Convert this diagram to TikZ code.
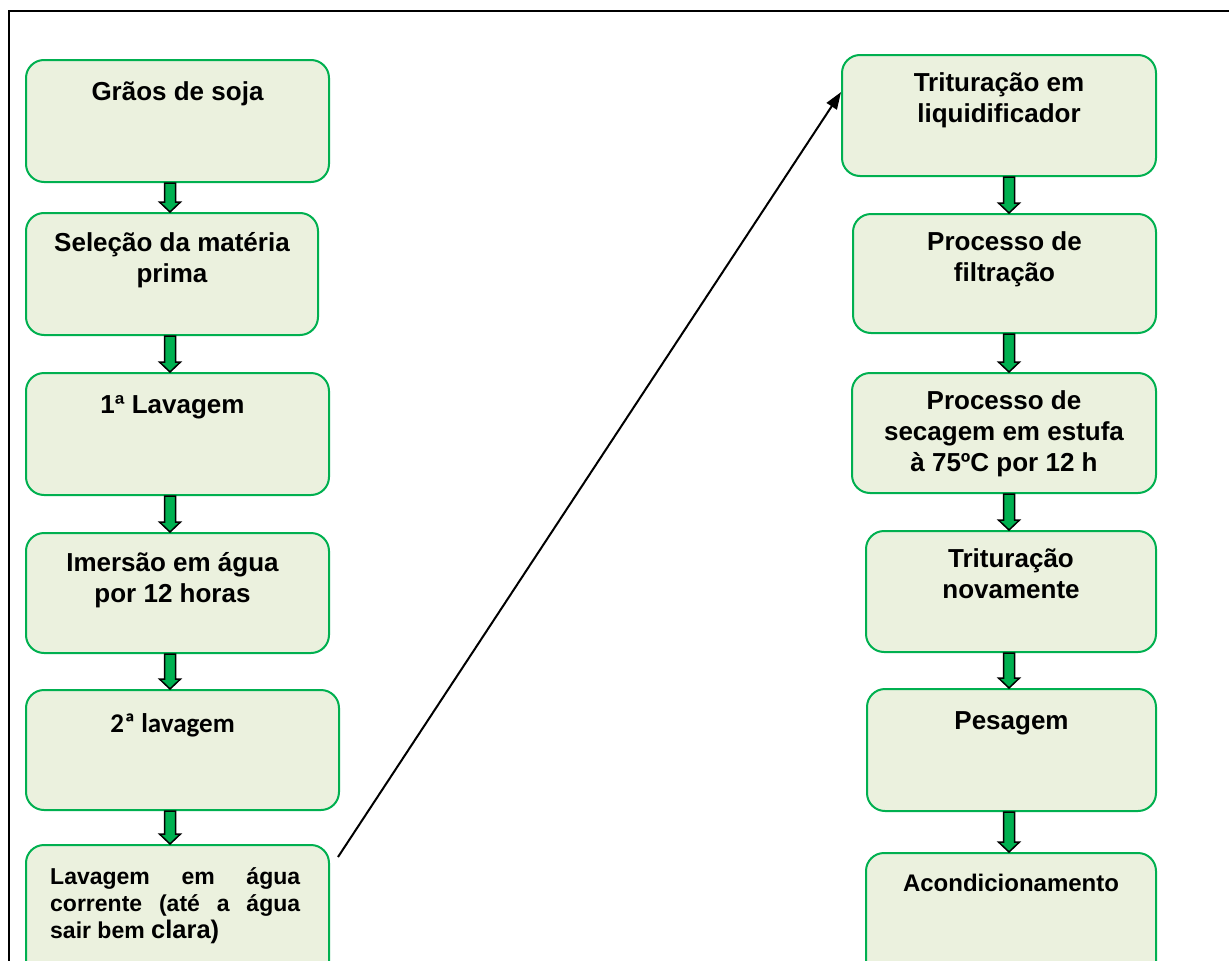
\documentclass[tikz,border=0pt]{standalone}
\usepackage{fontspec}
\setmainfont{Liberation Sans}
\newfontfamily\calibrifont{Carlito}
\usetikzlibrary{arrows.meta,calc}
\definecolor{boxfill}{HTML}{EBF1DE}
\definecolor{boxline}{HTML}{00B050}
\definecolor{arrowgreen}{HTML}{00B050}

\tikzset{
  stepbox/.style={draw=boxline, fill=boxfill, line width=2pt, rounded corners=18pt, inner sep=0pt},
  steptext/.style={anchor=north, inner sep=0pt, align=center,
    font=\bfseries\fontsize{26}{31}\selectfont, execute at begin node=\strut},
  blockarrow/.style={fill=arrowgreen, draw=black, line width=1.5pt, line join=miter},
}

% green block arrow down a column, from one box to the next
\newcommand{\flowarrow}[3]{%
  \coordinate (fa-top) at (#2.south -| #1);
  \coordinate (fa-tip) at (#3.north -| #1);
  \draw[blockarrow] ($(fa-top)+(-5.5,0)$) -- ($(fa-tip)+(-5.5,-10)$)
    -- ($(fa-tip)+(-10.5,-10)$) -- (fa-tip) -- ($(fa-tip)+(10.5,-10)$)
    -- ($(fa-tip)+(5.5,-10)$) -- ($(fa-top)+(5.5,0)$) -- cycle;}

\begin{document}
\begin{tikzpicture}[x=1pt, y=-1pt]
  \useasboundingbox (0,0) rectangle (1229,961);
  \draw[line width=2pt] (9,961) -- (9,11) -- (1229,11);

  % left column
  \node[stepbox, anchor=north west, minimum width=303, minimum height=122] (g1) at (25,59) {};
  \node[stepbox, anchor=north west, minimum width=292, minimum height=122] (g2) at (25,212) {};
  \node[stepbox, anchor=north west, minimum width=303, minimum height=122] (g3) at (25,372) {};
  \node[stepbox, anchor=north west, minimum width=303, minimum height=120] (g4) at (25,532) {};
  \node[stepbox, anchor=north west, minimum width=313, minimum height=120] (g5) at (25,689) {};
  \node[stepbox, anchor=north west, minimum width=303, minimum height=135] (g6) at (25,844) {};

  % right column
  \node[stepbox, anchor=north east, minimum width=314, minimum height=121] (r1) at (1157,54) {};
  \node[stepbox, anchor=north east, minimum width=303, minimum height=119] (r2) at (1157,213) {};
  \node[stepbox, anchor=north east, minimum width=304, minimum height=120] (r3) at (1157,372) {};
  \node[stepbox, anchor=north east, minimum width=290, minimum height=121] (r4) at (1157,530) {};
  \node[stepbox, anchor=north east, minimum width=289, minimum height=122] (r5) at (1157,688) {};
  \node[stepbox, anchor=north east, minimum width=290, minimum height=135] (r6) at (1157,852) {};

  % texts
  \node[steptext] (tg1) at ($(g1.north)+(0,20)$) {Grãos de soja};
  \node[steptext] (tg2) at ($(g2.north)+(0,20)$) {Seleção da matéria\\prima};
  \node[steptext] (tg3) at ($(g3.north)+(-5,20)$) {1ª Lavagem};
  \node[steptext] (tg4) at ($(g4.north)+(-5,20)$) {Imersão em água\\por 12 horas};
  \node[steptext, font=\calibrifont\bfseries\fontsize{27}{31}\selectfont] (tg5) at ($(g5.north)+(-10,22)$) {2ª lavagem};
  \node[anchor=north west, inner sep=0pt, text width=250, align=justify,
    font=\bfseries\fontsize{23}{27}\selectfont, execute at begin node=\strut] (tg6) at (50,865)
    {Lavagem em água\linebreak corrente (até a água\linebreak sair bem {\fontsize{25.5}{27}\selectfont clara)}};

  \node[steptext] (tr1) at ($(r1.north)+(0,18)$) {Trituração em\\liquidificador};
  \node[steptext] (tr2) at ($(r2.north)+(0,18)$) {Processo de\\filtração};
  \node[steptext] (tr3) at ($(r3.north)+(0,18)$) {Processo de\\secagem em estufa\\à 75ºC por 12 h};
  \node[steptext] (tr4) at ($(r4.north)+(0,18)$) {Trituração\\novamente};
  \node[steptext] (tr5) at ($(r5.north)+(0,20)$) {Pesagem};
  \node[steptext, font=\bfseries\fontsize{24}{28}\selectfont] (tr6) at ($(r6.north)+(0,20)$) {Acondicionamento};

  % block arrows
  \coordinate (lcol) at (170,0);
  \coordinate (rcol) at (1009,0);
  \flowarrow{lcol}{g1}{g2}
  \flowarrow{lcol}{g2}{g3}
  \flowarrow{lcol}{g3}{g4}
  \flowarrow{lcol}{g4}{g5}
  \flowarrow{lcol}{g5}{g6}
  \flowarrow{rcol}{r1}{r2}
  \flowarrow{rcol}{r2}{r3}
  \flowarrow{rcol}{r3}{r4}
  \flowarrow{rcol}{r4}{r5}
  \flowarrow{rcol}{r5}{r6}

  % jump to the second column
  \coordinate (jump) at (338,857);
  \draw[-{Triangle[length=17pt,width=12pt]}, line width=2pt]
    (jump) -- ($(r1.north west)!0.31!(r1.south west)$);
\end{tikzpicture}
\end{document}
